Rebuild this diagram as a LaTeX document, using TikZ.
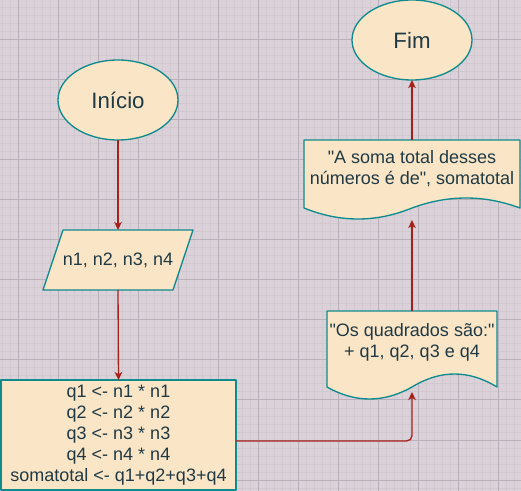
\documentclass[tikz,border=0pt]{standalone}
\usepackage{fontspec}
% plain family: no TeX ligature mapping, so " stays a straight quote
\newfontfamily\lsans{Liberation Sans}
\usetikzlibrary{shapes.geometric,arrows.meta,calc,backgrounds}
\definecolor{canvas}{HTML}{DAD2D8}
\definecolor{gridthin}{HTML}{D2C9D0}
\definecolor{gridthick}{HTML}{BBB1BA}
\definecolor{boxfill}{HTML}{FAE5C7}
\definecolor{boxline}{HTML}{0F8B8D}
\definecolor{ink}{HTML}{1F3A44}
\definecolor{flow}{HTML}{A8201A}
% one drawing unit = one pixel of the sheet
\def\u{0.75pt}
\tikzset{
  minorline/.style={draw=gridthin, line width=\u},
  majorline/.style={draw=gridthick, line width=\u},
  txt/.style={font=\lsans\fontsize{13.5pt}{15.75pt}\selectfont, text=ink, align=center},
  bigtxt/.style={font=\lsans\fontsize{16.7pt}{20pt}\selectfont, text=ink},
  outline/.style={draw=boxline, fill=boxfill, line width=1pt, line join=round},
  terminal/.style={ellipse, outline, minimum width=120*\u, minimum height=80*\u,
    inner sep=0pt, outer sep=0pt, bigtxt},
  frame/.style={rectangle, inner sep=0pt, outer sep=0pt},
  flowline/.style={draw=flow, line width=1pt,
    -{Stealth[length=6pt, width=5.6pt, inset=1.6pt]}}
}
\begin{document}
\begin{tikzpicture}[x=\u, y=-\u]
  \useasboundingbox (0,0) rectangle (521,491);

  % canvas and grid
  \begin{scope}[on background layer]
    \fill[canvas] (0,0) rectangle (521,491);
    \foreach \gx in {2,10,...,520} \draw[minorline] (\gx,0) -- (\gx,491);
    \foreach \gy in {0,8,...,490} \draw[minorline] (0,\gy) -- (521,\gy);
    \foreach \gx in {18,58,...,520} \draw[majorline] (\gx,0) -- (\gx,491);
    \foreach \gy in {0,40,...,490} \draw[majorline] (0,\gy) -- (521,\gy);
  \end{scope}

  % flowchart nodes
  \node[terminal] (start) at (118,100) {Início};
  \node[frame, txt, minimum width=150*\u, minimum height=60*\u] (io) at (118,260)
    {n1, n2, n3, n4};
  \node[frame, outline, txt, minimum width=235*\u, minimum height=110*\u] (proc)
    at (118.5,435)
    {q1 <- n1 * n1\\ q2 <- n2 * n2\\ q3 <- n3 * n3\\ q4 <- n4 * n4\\
     somatotal <- q1+q2+q3+q4};
  \node[frame, minimum width=170*\u, minimum height=81*\u,
    label={[txt, yshift=6.75pt]center:{"Os quadrados são:"\\ + q1, q2, q3 e q4}}]
    (d1) at (412,351.5) {};
  \node[frame, minimum width=216*\u, minimum height=80*\u,
    label={[txt, yshift=8.25pt]center:{"A soma total desses\\ números é de", somatotal}}]
    (d2) at (412,180) {};
  \node[terminal] (fim) at (412,40) {Fim};

  % outlines of the input and document shapes
  \begin{scope}[on background layer]
    \draw[outline] (io.south west) -- ($(io.north west)+(20,0)$)
      -- (io.north east) -- ($(io.south east)+(-20,0)$) -- cycle;
    \draw[outline] (327,311) -- (497,311) -- (497,387)
      .. controls (468.67,369.67) and (440.33,369.67) .. (412,387)
      .. controls (383.67,403) and (355.33,403) .. (327,387) -- cycle;
    \draw[outline] (304,140) -- (520,140) -- (520,208)
      .. controls (484,194.67) and (448,194.67) .. (412,208)
      .. controls (376,222.67) and (340,222.67) .. (304,208) -- cycle;
  \end{scope}

  % connectors
  \draw[flowline] (start.south) -- (io.north);
  \draw[flowline] (io.south) -- (proc.north);
  \draw[flowline, rounded corners=4pt] ($(proc.east)+(0,6)$) -| (d1.south);
  \draw[flowline] (d1.north) -- (d2.south);
  \draw[flowline] (d2.north) -- (fim.south);
\end{tikzpicture}
\end{document}
